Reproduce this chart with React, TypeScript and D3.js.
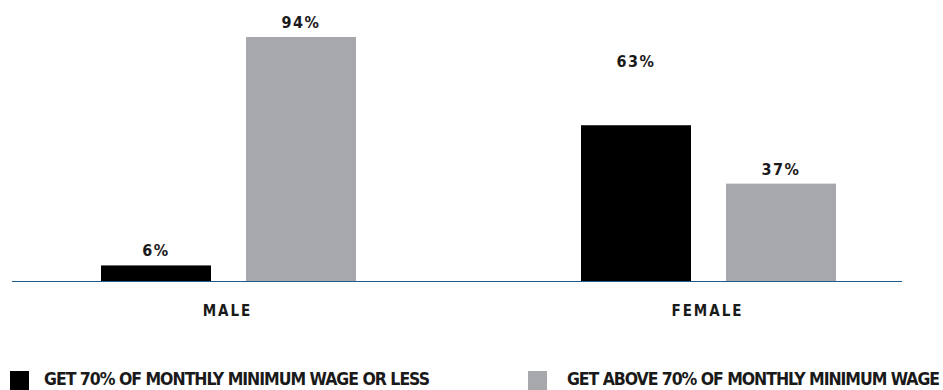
import React from "react";
import * as d3 from "d3";

const categories = ["MALE", "FEMALE"];
const seriesNames = [
  "GET 70% OF MONTHLY MINIMUM WAGE OR LESS",
  "GET ABOVE 70% OF MONTHLY MINIMUM WAGE",
];
const seriesColors = ["#000000", "#a7a8ab"];
// bar heights as drawn in the picture
const lessValues = [6, 60];
const aboveValues = [94, 37.5];
// printed labels
const lessLabels = ["6%", "63%"];
const aboveLabels = ["94%", "37%"];
// value at which each label sits (the 63% label floats above its bar)
const lessLabelAt = [6, 79];
const aboveLabelAt = [94, 37.5];

const W = 943;
const H = 390;
const FONT = "'DejaVu Sans Condensed', 'DejaVu Sans', sans-serif";

export default function App() {
  const baseline = 281;
  const y = d3.scaleLinear().domain([0, 100]).range([baseline, baseline - 259.6]);
  const xGroup = d3.scalePoint<string>().domain(categories).range([228.5, 708.5]);
  const xInner = d3
    .scaleBand<number>()
    .domain([0, 1])
    .range([-127.5, 127.5])
    .paddingInner(35 / 145)
    .paddingOuter(0);

  const series = [
    { values: lessValues, labels: lessLabels, at: lessLabelAt },
    { values: aboveValues, labels: aboveLabels, at: aboveLabelAt },
  ];

  const legendX = [10, 528];
  const legendTextX = [44, 567];
  const legendTextW = [386, 373];

  return (
    <svg
      width={W}
      height={H}
      style={{ position: "absolute", left: 0, top: 0, background: "#fff" }}
    >
      {categories.map((c, ci) =>
        series.map((s, si) => {
          const x0 = (xGroup(c) as number) + (xInner(si) as number);
          const bw = xInner.bandwidth();
          return (
            <g key={c + si}>
              <rect
                x={x0}
                y={y(s.values[ci])}
                width={bw}
                height={baseline - y(s.values[ci])}
                fill={seriesColors[si]}
              />
              <text
                x={x0 + bw / 2}
                y={y(s.at[ci]) - 9}
                textAnchor="middle"
                fontFamily={FONT}
                fontSize={16}
                fontWeight={700}
                letterSpacing={1.5}
                fill="#1a1a1a"
              >
                {s.labels[ci]}
              </text>
            </g>
          );
        })
      )}
      <line x1={12} x2={902} y1={baseline + 0.5} y2={baseline + 0.5} stroke="#1f5a8c" strokeWidth={1} />
      {categories.map((c) => (
        <text
          key={c}
          x={(xGroup(c) as number) - 1}
          y={316}
          textAnchor="middle"
          fontFamily={FONT}
          fontSize={15}
          fontWeight={700}
          letterSpacing={2}
          fill="#1a1a1a"
        >
          {c}
        </text>
      ))}
      {seriesNames.map((n, i) => (
        <g key={n}>
          <rect x={legendX[i]} y={371} width={19} height={19} fill={seriesColors[i]} />
          <text
            x={legendTextX[i]}
            y={385}
            fontFamily={FONT}
            fontSize={17.5}
            fontWeight={700}
            textLength={legendTextW[i]}
            lengthAdjust="spacing"
            fill="#1a1a1a"
          >
            {n}
          </text>
        </g>
      ))}
    </svg>
  );
}
